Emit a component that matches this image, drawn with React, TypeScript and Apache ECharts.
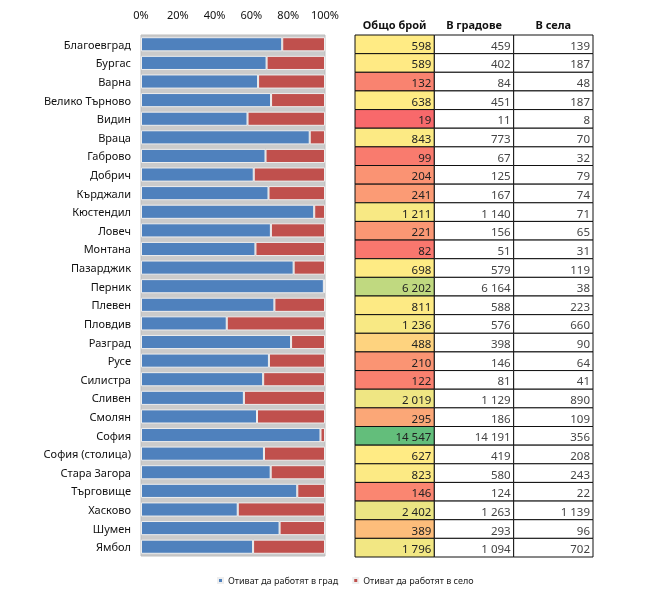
import React, { useEffect, useRef } from "react";
import * as echarts from "echarts";

const regions = [
  "Благоевград", "Бургас", "Варна", "Велико Търново", "Видин", "Враца", "Габрово",
  "Добрич", "Кърджали", "Кюстендил", "Ловеч", "Монтана", "Пазарджик", "Перник",
  "Плевен", "Пловдив", "Разград", "Русе", "Силистра", "Сливен", "Смолян", "София",
  "София (столица)", "Стара Загора", "Търговище", "Хасково", "Шумен", "Ямбол",
];
const totals = [598, 589, 132, 638, 19, 843, 99, 204, 241, 1211, 221, 82, 698, 6202, 811, 1236, 488, 210, 122, 2019, 295, 14547, 627, 823, 146, 2402, 389, 1796];
const cityCounts = [459, 402, 84, 451, 11, 773, 67, 125, 167, 1140, 156, 51, 579, 6164, 588, 576, 398, 146, 81, 1129, 186, 14191, 419, 580, 124, 1263, 293, 1094];
const villageCounts = [139, 187, 48, 187, 8, 70, 32, 79, 74, 71, 65, 31, 119, 38, 223, 660, 90, 64, 41, 890, 109, 356, 208, 243, 22, 1139, 96, 702];
const tableHeaders = ["Общо брой", "В градове", "В села"];
const legendNames = ["Отиват да работят в град", "Отиват да работят в село"];

const FONT = "'Noto Sans', 'Open Sans', sans-serif";

function hexToRgb(h: string) {
  const n = parseInt(h.slice(1), 16);
  return [(n >> 16) & 255, (n >> 8) & 255, n & 255];
}
function mix(a: string, b: string, t: number) {
  const A = hexToRgb(a), B = hexToRgb(b);
  const c = A.map((v, i) => Math.round(v + (B[i] - v) * t));
  return `rgb(${c[0]},${c[1]},${c[2]})`;
}
function scaleColors(vals: number[]) {
  const s = [...vals].sort((a, b) => a - b);
  const min = s[0], max = s[s.length - 1];
  const mid = s.length % 2 ? s[(s.length - 1) / 2] : (s[s.length / 2 - 1] + s[s.length / 2]) / 2;
  const red = "#F8696B", yellow = "#FFEB84", green = "#63BE7B";
  return vals.map((v) =>
    v <= mid ? mix(red, yellow, (v - min) / (mid - min)) : mix(yellow, green, (v - mid) / (max - mid))
  );
}
function fmt(n: number) {
  return String(n).replace(/\B(?=(\d{3})+(?!\d))/g, " ");
}

export default function App() {
  const ref = useRef<HTMLDivElement>(null);
  useEffect(() => {
    if (!ref.current) return;
    const chart = echarts.init(ref.current, undefined, { renderer: "svg" });
    const cityPct = cityCounts.map((c, i) => (c / (c + villageCounts[i])) * 100);
    const villagePct = villageCounts.map((v, i) => (v / (cityCounts[i] + v)) * 100);
    const totalColors = scaleColors(totals);
    const cols = [totals, cityCounts, villageCounts];
    const tableData: number[][] = [];
    cols.forEach((arr, c) => arr.forEach((v, r) => tableData.push([c, r, v])));

    chart.setOption({
      animation: false,
      textStyle: { fontFamily: FONT },
      legend: {
        data: legendNames,
        left: 212,
        top: 571,
        icon: "rect",
        itemWidth: 5,
        itemHeight: 5,
        itemGap: 14,
        textStyle: { fontSize: 9, color: "#222", fontFamily: FONT },
      },
      grid: [
        {
          left: 141, right: 323, top: 35, bottom: 40,
          show: true, backgroundColor: "#cbcbcb", borderColor: "#bdbdbd", borderWidth: 1,
        },
        { left: 355, right: 55, top: 35, bottom: 39 },
      ],
      xAxis: [
        {
          gridIndex: 0, type: "value", position: "top", min: 0, max: 100, interval: 20,
          axisLabel: { formatter: "{value}%", fontSize: 11, color: "#111", margin: 15, fontFamily: FONT },
          axisLine: { show: false }, axisTick: { show: false }, splitLine: { show: false },
        },
        {
          gridIndex: 1, type: "category", position: "top", data: tableHeaders,
          axisLabel: { interval: 0, fontSize: 11, fontWeight: "bold", color: "#111", margin: 5, fontFamily: FONT },
          axisLine: { show: false }, axisTick: { show: false },
        },
      ],
      yAxis: [
        {
          gridIndex: 0, type: "category", data: regions, inverse: true,
          axisLabel: { interval: 0, fontSize: 11, color: "#111", margin: 10, fontFamily: FONT },
          axisLine: { show: false }, axisTick: { show: false },
        },
        {
          gridIndex: 1, type: "category", data: regions, inverse: true,
          axisLabel: { show: false }, axisLine: { show: false }, axisTick: { show: false },
        },
      ],
      series: [
        {
          name: legendNames[0], type: "bar", stack: "s", xAxisIndex: 0, yAxisIndex: 0,
          data: cityPct, barCategoryGap: "24%",
          itemStyle: { color: "#4F81BD", borderColor: "#eeeeee", borderWidth: 1 },
        },
        {
          name: legendNames[1], type: "bar", stack: "s", xAxisIndex: 0, yAxisIndex: 0,
          data: villagePct, barCategoryGap: "24%",
          itemStyle: { color: "#C0504D", borderColor: "#eeeeee", borderWidth: 1 },
        },
        {
          type: "custom", xAxisIndex: 1, yAxisIndex: 1, data: tableData,
          renderItem: (params: any, api: any) => {
            const c = api.value(0), r = api.value(1), v = api.value(2);
            const pt = api.coord([c, r]);
            const sz = api.size([1, 1]);
            const fill = c === 0 ? totalColors[r] : "#ffffff";
            return {
              type: "group",
              children: [
                {
                  type: "rect",
                  shape: { x: pt[0] - sz[0] / 2, y: pt[1] - sz[1] / 2, width: sz[0], height: sz[1] },
                  style: { fill, stroke: "#111", lineWidth: 1 },
                },
                {
                  type: "text",
                  style: {
                    text: fmt(v), x: pt[0] + sz[0] / 2 - 3, y: pt[1] + 1,
                    align: "right", verticalAlign: "middle",
                    fill: c === 0 ? "#222" : "#444", font: `11.5px ${FONT}`,
                  },
                },
              ],
            };
          },
        },
      ],
    });
    return () => chart.dispose();
  }, []);
  return <div ref={ref} style={{ position: "fixed", left: 0, top: 0, width: 648, height: 596 }} />;
}
